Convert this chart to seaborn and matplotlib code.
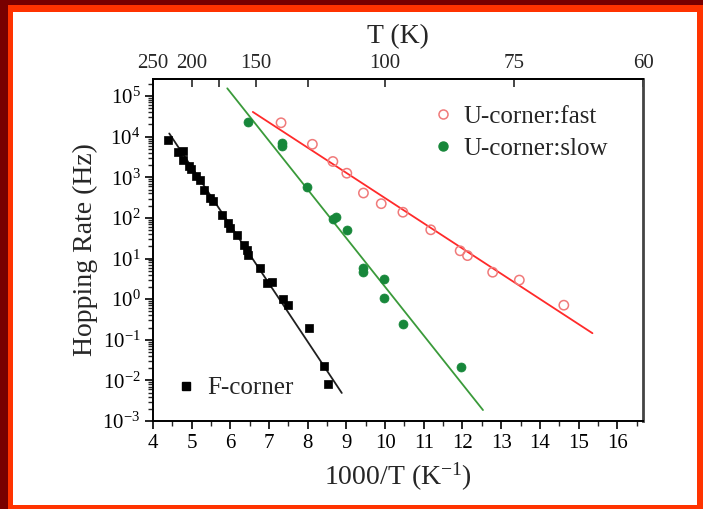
import numpy as np
import pandas as pd
import matplotlib
matplotlib.use("Agg")
import matplotlib.pyplot as plt
import seaborn as sns
from matplotlib.patches import Rectangle
from matplotlib.lines import Line2D
from matplotlib.ticker import FixedLocator, LogLocator, FuncFormatter, NullFormatter

# F-corner (black squares)
f_x = [4.40, 4.65, 4.78, 4.78, 4.94, 4.97, 5.11, 5.22, 5.32, 5.47, 5.54, 5.78, 5.95,
       5.99, 6.16, 6.34, 6.42, 6.46, 6.77, 6.94, 7.07, 7.37, 7.50, 8.04, 8.43, 8.52]
f_rate = [8300, 4300, 4500, 2700, 1900, 1580, 1050, 870, 490, 307, 255, 120, 76,
          57, 39, 22, 16.5, 12.5, 5.9, 2.5, 2.6, 0.99, 0.71, 0.20, 0.023, 0.0081]

# U-corner slow (green filled circles)
slow_x = [6.46, 7.33, 7.33, 7.97, 8.65, 8.73, 9.01, 9.42, 9.42, 9.96, 9.96, 10.47, 11.96]
slow_rate = [23000, 6900, 5900, 580, 93, 105, 51, 5.9, 4.6, 3.2, 1.08, 0.25, 0.021]

# U-corner fast (red open circles)
fast_x = [7.31, 8.12, 8.65, 9.01, 9.44, 9.90, 10.46, 11.18, 11.94, 12.13, 12.78, 13.47, 14.62]
fast_rate = [22000, 6500, 2450, 1260, 410, 224, 138, 51, 15.5, 11.8, 4.6, 2.95, 0.71]

# fitted lines (end points)
f_fit_x = [4.42, 8.88]
f_fit_rate = [12000, 0.0049]
slow_fit_x = [5.92, 12.53]
slow_fit_rate = [155000, 0.00186]
fast_fit_x = [6.58, 15.36]
fast_fit_rate = [40700, 0.145]

top_T = [250, 200, 150, 100, 75, 60]
top_T_minor = [175, 125]

sns.set_theme(style="ticks")
plt.rcParams['font.family'] = ['Liberation Serif', 'DejaVu Serif']
plt.rcParams['mathtext.fontset'] = 'custom'
plt.rcParams['mathtext.rm'] = 'Liberation Serif'
plt.rcParams['mathtext.it'] = 'Liberation Serif:italic'

fig = plt.figure(figsize=(7.03, 5.09), dpi=100)
W, H = 703, 509
fig.patch.set_facecolor('#ff3300')
# dark strips on the top and left, white panel inside the red frame
fig.patches.append(Rectangle((0, 0), 8 / W, 1, transform=fig.transFigure,
                             facecolor='#780000', edgecolor='none', zorder=-3))
fig.patches.append(Rectangle((0, 1 - 5 / H), 1, 5 / H, transform=fig.transFigure,
                             facecolor='#780000', edgecolor='none', zorder=-3))
fig.patches.append(Rectangle((13 / W, 4 / H), 684 / W, 493 / H, transform=fig.transFigure,
                             facecolor='white', edgecolor='none', zorder=-2))

ax = fig.add_axes([153 / W, (H - 421) / H, 490 / W, 342 / H])
ax.set_facecolor('white')

f_df = pd.DataFrame({'x': f_x, 'rate': f_rate})
slow_df = pd.DataFrame({'x': slow_x, 'rate': slow_rate})
fast_df = pd.DataFrame({'x': fast_x, 'rate': fast_rate})

sns.lineplot(x=f_fit_x, y=f_fit_rate, color='#202020', lw=1.3, ax=ax)
sns.lineplot(x=slow_fit_x, y=slow_fit_rate, color='#3a9a3a', lw=1.3, ax=ax)
sns.lineplot(x=fast_fit_x, y=fast_fit_rate, color='#ff2a2a', lw=1.3, ax=ax)

sns.scatterplot(data=f_df, x='x', y='rate', marker='s', s=32, color='black',
                edgecolor='black', linewidth=0.5, ax=ax, zorder=3)
sns.scatterplot(data=slow_df, x='x', y='rate', marker='o', s=42, color='#17873a',
                edgecolor='#17873a', linewidth=0.5, ax=ax, zorder=3)
sns.scatterplot(data=fast_df, x='x', y='rate', marker='o', s=45, facecolor='none',
                edgecolor='#f07a7a', linewidth=1.1, ax=ax, zorder=3)

ax.set_yscale('log')
ax.set_xlim(4, 1000 / 60)
ax.set_ylim(1e-3, 10 ** 5.42)

ax.xaxis.set_major_locator(FixedLocator(np.arange(4, 17)))
ax.xaxis.set_minor_locator(FixedLocator(np.arange(4.5, 16.6, 1.0)))
ax.yaxis.set_major_locator(LogLocator(base=10, numticks=20))
ax.yaxis.set_minor_locator(LogLocator(base=10, subs=np.arange(2, 10), numticks=20))
ax.yaxis.set_minor_formatter(NullFormatter())
ax.yaxis.set_major_formatter(FuncFormatter(
    lambda v, p: r'$\mathrm{10^{%d}}$' % int(round(np.log10(v)))))

ax.tick_params(axis='both', which='major', direction='out', length=6, width=1.2,
               labelsize=15, colors='black', pad=3)
ax.tick_params(axis='both', which='minor', direction='out', length=3.5, width=1.0)
ax.tick_params(axis='x', which='both', top=False)
ax.tick_params(axis='y', which='both', right=False)
for sp in ax.spines.values():
    sp.set_visible(True)
    sp.set_color('black')
    sp.set_linewidth(1.4)
ax.spines['right'].set_color('#444444')
ax.spines['right'].set_linewidth(2)

ax.set_xlabel(r'1000/T (K$^{\mathrm{-1}}$)', fontsize=20, labelpad=6)
ax.set_ylabel('Hopping Rate (Hz)', fontsize=20, labelpad=3)

top = ax.secondary_xaxis('top', functions=(lambda x: 1000 / x, lambda x: 1000 / x))
top.set_xticks(top_T)
top.set_xticks(top_T_minor, minor=True)
top.set_xticklabels([str(t) for t in top_T])
top.xaxis.set_minor_formatter(NullFormatter())
top.tick_params(which='both', direction='in', length=6, width=1.2, labelsize=15, pad=4)
top.set_xlabel('T (K)', fontsize=20, labelpad=8)

# legends
u_handles = [
    Line2D([], [], ls='none', marker='o', ms=6.5, mfc='none', mec='#f07a7a', mew=1.1),
    Line2D([], [], ls='none', marker='o', ms=6.5, mfc='#17873a', mec='#17873a'),
]
leg1 = ax.legend(u_handles, ['U-corner:fast', 'U-corner:slow'], loc='upper right',
                 bbox_to_anchor=(0.965, 0.975), frameon=False, fontsize=18,
                 handlelength=0.8, handletextpad=0.45, labelspacing=0.4, borderpad=0.2)
ax.add_artist(leg1)
f_handle = [Line2D([], [], ls='none', marker='s', ms=5.5, mfc='black', mec='black')]
ax.legend(f_handle, ['F-corner'], loc='lower left', bbox_to_anchor=(0.012, 0.012),
          frameon=False, fontsize=18, handlelength=0.8, handletextpad=0.45, borderpad=0.2)

fig.savefig('out.png', dpi=100, facecolor=fig.get_facecolor())
